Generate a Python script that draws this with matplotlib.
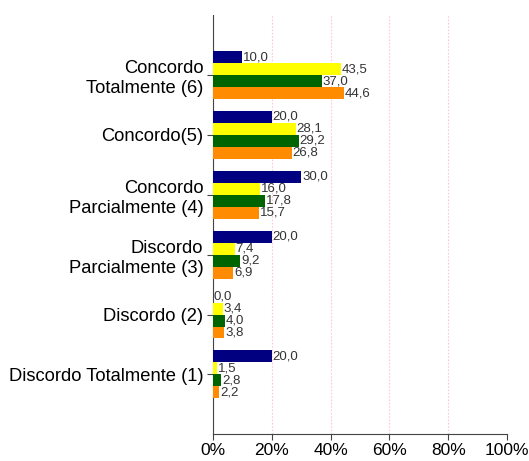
import matplotlib
matplotlib.use("Agg")
import matplotlib.pyplot as plt
import numpy as np

plt.rcParams['font.family'] = ['Liberation Sans', 'DejaVu Sans']

categorias = ["Concordo\nTotalmente (6)", "Concordo(5)", "Concordo\nParcialmente (4)",
              "Discordo\nParcialmente (3)", "Discordo (2)", "Discordo Totalmente (1)"]
serie1 = [10.0, 20.0, 30.0, 20.0, 0.0, 20.0]
serie2 = [43.5, 28.1, 16.0, 7.4, 3.4, 1.5]
serie3 = [37.0, 29.2, 17.8, 9.2, 4.0, 2.8]
serie4 = [44.6, 26.8, 15.7, 6.9, 3.8, 2.2]
cores = ["#000080", "#FFFF00", "#006400", "#FF8C00"]
ticks_x = [0, 20, 40, 60, 80, 100]

fig = plt.figure(figsize=(5.29, 4.61), dpi=100)
ax = fig.add_axes([0.4026, 0.058, 0.5558, 0.909])

# posicoes: primeira categoria no topo
pos = np.arange(len(categorias), 0, -1)
h = 0.2
for i, (serie, cor) in enumerate(zip([serie1, serie2, serie3, serie4], cores)):
    y = pos + 0.3 - i * h
    ax.barh(y, serie, height=h, color=cor, zorder=3)
    for yy, v in zip(y, serie):
        ax.text(v + 0.3, yy, f"{v:.1f}".replace(".", ","), va="center", ha="left",
                fontsize=9.5, color="#333333", zorder=4)

ax.set_xlim(0, 100)
ax.set_ylim(0, len(categorias) + 1)
ax.set_yticks(pos)
ax.set_yticklabels(categorias, fontsize=13.2, ha="right", multialignment="right",
                   linespacing=1.25)
ax.set_xticks(ticks_x)
ax.set_xticklabels([f"{t}%" for t in ticks_x], fontsize=12.5)
ax.xaxis.grid(True, color="#FFC8D2", linewidth=0.8, linestyle=(0, (1.5, 1.5)), zorder=0)
ax.spines["top"].set_visible(False)
ax.spines["right"].set_visible(False)
ax.spines["left"].set_color("#444444")
ax.spines["bottom"].set_color("#444444")
ax.tick_params(axis="both", direction="out", length=4, color="#444444")
ax.tick_params(axis="y", pad=3)
ax.tick_params(axis="x", pad=2)

fig.savefig("out.png", dpi=100)
